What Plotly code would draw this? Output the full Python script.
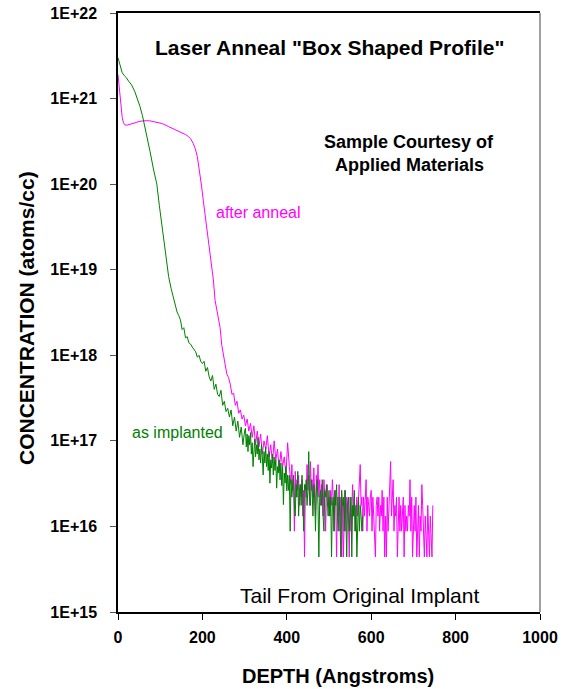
import plotly.graph_objects as go

# ---- SIMS depth profiles (depth in Angstroms, concentration in atoms/cc) ----

# as-implanted profile
implant_depth = ([0, 5, 10, 15, 20, 25, 32, 40, 46, 52, 58, 64, 70, 76, 84, 92, 98,
                  104, 110, 115, 120, 126, 133, 140]
                 + list(range(144, 304, 4)) + list(range(302, 582, 2)))
implant_conc = [
    3.0e21, 2.4e21, 2.0e21, 1.85e21, 1.75e21, 1.6e21, 1.45e21, 1.2e21, 1.0e21,
    8.1e20, 6.3e20, 4.7e20, 3.4e20, 2.4e20, 1.5e20, 1.0e20, 5.6e19, 3.2e19,
    1.8e19, 1.17e19, 8.3e18, 6.0e18, 4.2e18, 3.2e18,
    # 144 - 200
    2.9e18, 2.6e18, 2.0e18, 2.1e18, 1.6e18, 1.65e18, 1.4e18, 1.35e18, 1.25e18,
    1.15e18, 1.1e18, 9.5e17, 1.0e18, 8.5e17, 8.0e17,
    # 204 - 300
    8.5e17, 6.5e17, 7.2e17, 5.6e17, 5.0e17, 5.8e17, 4.0e17, 4.6e17, 3.5e17,
    3.3e17, 3.9e17, 2.6e17, 2.9e17, 2.2e17, 2.4e17, 1.9e17, 2.3e17, 1.5e17,
    1.9e17, 1.3e17, 1.7e17, 1.1e17, 1.45e17, 9.0e16, 1.3e17,
    # 302 - 402
    1.4e17, 8.5e16, 1.2e17, 7.5e16, 1.15e17, 9.0e16, 1.25e17, 7.0e16, 9.5e16,
    5.0e16, 8.0e16, 1.05e17, 6.5e16, 9.0e16, 7.0e16, 1.1e17, 6.0e16, 8.0e16,
    5.5e16, 9.0e16, 6.5e16, 4.0e16, 7.5e16, 5.5e16, 8.5e16, 5.0e16, 7.0e16,
    4.5e16, 7.5e16, 3.2e16, 6.0e16, 4.8e16, 7.0e16, 4.0e16, 6.5e16, 4.5e16,
    6.0e16, 2.8e16, 5.0e16, 4.2e16, 6.0e16, 3.5e16, 5.5e16, 3.0e16, 5.0e16,
    1.8e16, 4.2e16, 3.2e16, 5.0e16, 2.6e16, 4.0e16,
    # 404 - 450
    2.64e16, 3.96e16, 8.8e15, 3.52e16, 2.2e16, 3.08e16, 3.96e16, 1.76e16, 1.32e16,
    3.08e16, 2.2e16, 4.4e16, 1.32e16, 2.64e16, 3.08e16, 1.76e16, 3.96e16, 2.2e16,
    8.8e15, 3.08e16, 2.64e16, 3.52e16, 1.76e16, 2.64e16,
    # 452 - 500
    7.48e16, 2.2e16, 1.76e16, 3.52e16, 2.64e16, 1.32e16, 3.08e16, 2.2e16, 8.8e15,
    2.64e16, 3.52e16, 1.76e16, 4.4e15, 2.2e16, 2.64e16, 1.76e16, 3.52e16, 1.32e16,
    8.8e15, 2.64e16, 2.2e16, 3.08e16, 1.76e16, 1.32e16, 2.64e16,
    # 502 - 550
    1.32e16, 2.2e16, 4.4e15, 1.76e16, 2.2e16, 8.8e15, 2.64e16, 1.76e16, 3.08e16,
    1.32e16, 8.8e15, 2.2e16, 1.32e16, 4.4e15, 2.64e16, 1.76e16, 2.2e16, 8.8e15,
    2.64e16, 1.32e16, 4.4e15, 1.76e16, 2.2e16, 8.8e15, 1.32e16,
    # 552 - 580
    2.2e16, 4.4e15, 1.76e16, 1.32e16, 2.64e16, 8.8e15, 1.76e16, 4.4e15, 1.32e16,
    2.2e16, 8.8e15, 1.76e16, 1.32e16, 8.8e15, 1.32e16,
]

# laser-annealed profile
anneal_depth = ([0, 2, 4, 6, 8, 10, 13, 17, 22, 30, 40, 50, 60, 75, 90, 105, 120,
                 135, 150, 160, 167, 172, 178, 183, 188, 192, 194, 198, 202, 206,
                 210, 214, 218, 222, 226, 230, 234, 238, 242, 246]
                + list(range(250, 410, 4)) + list(range(408, 748, 2)))
anneal_conc = [
    1.9e21, 1.5e21, 1.1e21, 9.5e20, 7.5e20, 6.0e20, 5.2e20, 4.9e20, 4.9e20,
    5.0e20, 5.2e20, 5.4e20, 5.5e20, 5.5e20, 5.3e20, 5.1e20, 4.7e20, 4.35e20,
    4.0e20, 3.8e20, 3.6e20, 3.4e20, 3.0e20, 2.6e20, 2.1e20, 1.6e20, 1.35e20,
    9.5e19, 6.5e19, 4.5e19, 3.2e19, 2.2e19, 1.55e19, 1.1e19, 7.6e18, 4.4e18,
    3.4e18, 2.6e18, 2.1e18, 1.3e18,
    # 250 - 406
    1.0e18, 8.5e17, 6.0e17, 5.5e17, 4.6e17, 3.5e17, 3.6e17, 2.6e17, 2.9e17,
    2.1e17, 2.3e17, 1.8e17, 2.0e17, 1.5e17, 1.8e17, 1.3e17, 1.6e17, 1.1e17,
    1.5e17, 9.0e16, 1.3e17, 8.5e16, 1.2e17, 7.0e16, 1.0e17, 8.0e16, 1.15e17,
    6.5e16, 9.0e16, 5.5e16, 1.0e17, 6.0e16, 8.0e16, 4.5e16, 7.5e16, 5.0e16,
    6.5e16, 4.0e16, 9.5e16, 5.0e16,
    # 408 - 446
    3.96e16, 3.08e16, 5.28e16, 2.64e16, 3.52e16, 8.8e15, 4.4e16, 2.2e16, 3.52e16,
    2.64e16, 3.96e16, 1.76e16, 3.08e16, 2.2e16, 3.52e16, 1.32e16, 2.64e16, 4.4e15,
    3.08e16, 2.2e16,
    # 448 - 486
    5.28e16, 2.64e16, 3.96e16, 1.76e16, 5.72e16, 2.64e16, 3.52e16, 2.2e16, 4.84e16,
    3.08e16, 1.32e16, 3.96e16, 2.64e16, 5.28e16, 2.2e16, 3.52e16, 1.76e16, 3.08e16,
    2.64e16, 1.32e16,
    # 488 - 526
    3.52e16, 2.2e16, 8.8e15, 2.64e16, 3.08e16, 1.76e16, 2.2e16, 1.32e16, 2.64e16,
    1.76e16, 3.52e16, 2.2e16, 8.8e15, 2.64e16, 1.76e16, 4.4e15, 2.2e16, 1.32e16,
    3.08e16, 8.8e15,
    # 528 - 566
    2.2e16, 4.4e15, 1.76e16, 4.4e15, 1.32e16, 2.64e16, 8.8e15, 2.2e16, 1.76e16,
    1.32e16, 4.4e15, 2.2e16, 8.8e15, 1.76e16, 3.08e16, 1.32e16, 2.2e16, 8.8e15,
    1.76e16, 2.2e16,
    # 568 - 606
    1.32e16, 2.2e16, 2.64e16, 5.28e16, 1.76e16, 2.2e16, 8.8e15, 2.2e16, 1.32e16,
    2.2e16, 3.52e16, 8.8e15, 2.2e16, 1.76e16, 1.32e16, 2.2e16, 2.64e16, 8.8e15,
    2.2e16, 1.32e16,
    # 608 - 646
    8.8e15, 4.4e15, 1.76e16, 2.2e16, 1.32e16, 2.2e16, 8.8e15, 1.76e16, 1.32e16,
    2.64e16, 8.8e15, 2.2e16, 4.4e15, 1.32e16, 4.4e15, 2.2e16, 8.8e15, 1.76e16,
    2.64e16, 5.72e16,
    # 648 - 686
    1.32e16, 2.2e16, 3.52e16, 8.8e15, 1.76e16, 1.32e16, 2.2e16, 4.4e15, 1.32e16,
    2.2e16, 8.8e15, 1.76e16, 8.8e15, 1.32e16, 2.2e16, 4.4e15, 1.76e16, 8.8e15,
    1.32e16, 8.8e15,
    # 688 - 726
    1.76e16, 1.32e16, 3.52e16, 8.8e15, 2.2e16, 4.4e15, 1.32e16, 1.76e16, 8.8e15,
    2.2e16, 4.4e15, 8.8e15, 1.76e16, 4.4e15, 1.32e16, 8.8e15, 3.08e16, 1.76e16,
    8.8e15, 4.4e15,
    # 728 - 746
    1.32e16, 8.8e15, 4.4e15, 1.76e16, 8.8e15, 4.4e15, 1.32e16, 8.8e15, 4.4e15,
    1.76e16,
]

x_ticks = [0, 200, 400, 600, 800, 1000]
y_ticks = [1e15, 1e16, 1e17, 1e18, 1e19, 1e20, 1e21, 1e22]
y_tick_labels = ["1E+15", "1E+16", "1E+17", "1E+18", "1E+19", "1E+20", "1E+21", "1E+22"]

FONT = "Liberation Sans, Arial, sans-serif"
GREEN = "#008000"
MAGENTA = "#FF00FF"

fig = go.Figure()
fig.add_trace(go.Scatter(x=anneal_depth, y=anneal_conc, mode="lines",
                         line=dict(color=MAGENTA, width=1), name="after anneal"))
fig.add_trace(go.Scatter(x=implant_depth, y=implant_conc, mode="lines",
                         line=dict(color=GREEN, width=1), name="as implanted"))

fig.update_layout(
    width=571, height=689,
    margin=dict(l=118, r=31, t=13, b=77),
    paper_bgcolor="white", plot_bgcolor="white",
    showlegend=False,
    font=dict(family=FONT, color="black"),
    xaxis=dict(range=[0, 1000], tickvals=x_ticks, showgrid=False, zeroline=False,
               automargin=False,
               showline=True, linecolor="black", linewidth=1.5, mirror=True,
               ticks="outside", ticklen=6, tickcolor="black", tickwidth=1,
               ticklabelstandoff=4,
               tickfont=dict(family=FONT, size=16, weight="bold", color="black")),
    yaxis=dict(type="log", range=[15, 22], tickvals=y_ticks, ticktext=y_tick_labels,
               automargin=False,
               showgrid=False, zeroline=False, showline=True, linecolor="black",
               linewidth=1.5, ticks="outside", ticklen=6, tickcolor="#555555", tickwidth=1,
               ticklabelstandoff=10,
               tickfont=dict(family=FONT, size=16, weight="bold", color="black")),
)

# grey right-hand frame edge
fig.add_shape(type="line", xref="paper", yref="paper", x0=1, x1=1, y0=0, y1=1,
              line=dict(color="#808080", width=1.5))

ann = [
    dict(text='Laser Anneal "Box Shaped Profile"', x=502, y=21.6, size=21, bold=True, color="black"),
    dict(text="Sample Courtesy of", x=690, y=20.49, size=18, bold=True, color="black"),
    dict(text="Applied Materials", x=690, y=20.22, size=18, bold=True, color="black"),
    dict(text="after anneal", x=334, y=19.67, size=16, bold=False, color=MAGENTA),
    dict(text="as implanted", x=140, y=17.1, size=16, bold=False, color=GREEN),
    dict(text="Tail From Original Implant", x=573, y=15.19, size=21, bold=False, color="black"),
]
for a in ann:
    fig.add_annotation(text=a["text"], x=a["x"], y=a["y"], xref="x", yref="y",
                       showarrow=False, xanchor="center", yanchor="middle",
                       font=dict(family=FONT, size=a["size"], color=a["color"],
                                 weight="bold" if a["bold"] else "normal"))

# axis titles
fig.add_annotation(text="DEPTH (Angstroms)", xref="paper", yref="paper",
                   x=(338 - 118) / 422, y=(612 - 676) / 599, showarrow=False,
                   xanchor="center", yanchor="middle",
                   font=dict(family=FONT, size=20, weight="bold", color="black"))
fig.add_annotation(text="CONCENTRATION (atoms/cc)", xref="paper", yref="paper",
                   x=(26 - 118) / 422, y=(612 - 318) / 599, showarrow=False,
                   textangle=-90, xanchor="center", yanchor="middle",
                   font=dict(family=FONT, size=21, weight="bold", color="black"))

fig.write_html("out.html")
